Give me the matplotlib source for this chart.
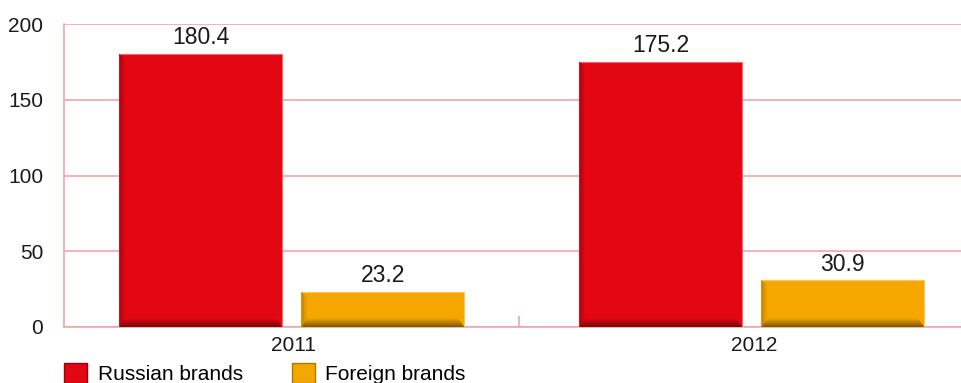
import matplotlib
matplotlib.use("Agg")
import matplotlib.pyplot as plt
from matplotlib.patches import Polygon, Patch
from matplotlib.colors import to_rgb

plt.rcParams['font.family'] = ['Liberation Sans', 'DejaVu Sans']

years = ["2011", "2012"]
russian = [180.4, 175.2]
foreign = [23.2, 30.9]
series_names = ["Russian brands", "Foreign brands"]
yticks = [0, 50, 100, 150, 200]

red = "#e30613"
red_side = "#9a000c"
red_bot = "#760606"
red_edge = "#ee6a70"
orange = "#f5a700"
orange_side = "#b07800"
orange_bot = "#7a5600"
orange_edge = "#f8c860"
grid_c = "#f4a3aa"
txt = "#1a1a1a"

W, H = 961, 383
fig = plt.figure(figsize=(W/100, H/100), dpi=100)
ax = fig.add_axes([64/W, 1-327/H, 920/W, 303/H])

x = list(range(len(years)))
bw = 0.354
b1 = ax.bar([i - 0.203 for i in x], russian, bw, color=red, edgecolor=red_edge, lw=0.8, zorder=3)
b2 = ax.bar([i + 0.193 for i in x], foreign, bw, color=orange, edgecolor=orange_edge, lw=0.8, zorder=3)

ax.set_xlim(-0.5, 1.5)
ax.set_ylim(0, 200)


def mix(c1, c2, t):
    a, b = to_rgb(c1), to_rgb(c2)
    return tuple(a[k] + (b[k] - a[k]) * t for k in range(3))


bx = 6/460
by = 9/1.515
n = 9
for bars, base, side, bot in ((b1, red, red_side, red_bot), (b2, orange, orange_side, orange_bot)):
    for r in bars:
        x0, w, h = r.get_x(), r.get_width(), r.get_height()
        for i in range(n):
            t0, t1 = i / n, (i + 1) / n
            col = mix(side, base, (i + 0.5) / n)
            ax.add_patch(Polygon([(x0 + bx*t0, by*t0), (x0 + bx*t1, by*t1),
                                  (x0 + bx*t1, h - by*t1 * 0.6), (x0 + bx*t0, h - by*t0 * 0.6)],
                                 closed=True, color=col, zorder=4, lw=0))
        for i in range(n):
            t0, t1 = i / n, (i + 1) / n
            col = mix(bot, base, (i + 0.5) / n)
            ax.add_patch(Polygon([(x0 + bx*t0, by*t0), (x0 + w - bx*t0, by*t0),
                                  (x0 + w - bx*t1, by*t1), (x0 + bx*t1, by*t1)],
                                 closed=True, color=col, zorder=4, lw=0))
    for r in bars:
        ax.text(r.get_x() + r.get_width()/2, r.get_height() + 3, f"{r.get_height():.1f}",
                ha='center', va='bottom', fontsize=16.5, color=txt, zorder=5)

ax.set_yticks(yticks)
ax.set_yticklabels([str(v) for v in yticks], fontsize=15, color=txt)
ax.yaxis.grid(True, color=grid_c, lw=1.2, zorder=0)
ax.tick_params(axis='y', length=0, pad=15)

ax.set_xticks(x)
ax.set_xticklabels(years, fontsize=15, color=txt)
ax.tick_params(axis='x', length=0, pad=6.5)
ax.set_xticks([0.49], minor=True)
ax.tick_params(axis='x', which='minor', direction='in', length=8, color=grid_c, width=1.2)

for s in ('top', 'right'):
    ax.spines[s].set_visible(False)
for s in ('left', 'bottom'):
    ax.spines[s].set_color(grid_c)
    ax.spines[s].set_linewidth(1.2)

handles = [Patch(facecolor=red, edgecolor=red_side), Patch(facecolor=orange, edgecolor=orange_side)]
fig.legend(handles, series_names, loc='upper left', bbox_to_anchor=(58/W, 1-357/H),
           ncol=2, frameon=False, fontsize=15, handlelength=1.1, handleheight=1.1,
           columnspacing=2.35, handletextpad=0.5, borderaxespad=0, borderpad=0.3)

fig.savefig("out.png", dpi=100)
